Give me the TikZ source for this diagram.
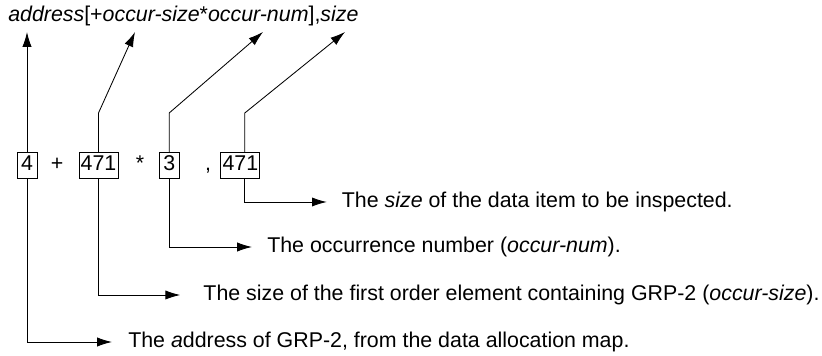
\documentclass[tikz,border=0pt]{standalone}
\usepackage{fontspec}
\setmainfont{Liberation Sans}
\usetikzlibrary{arrows.meta}

\begin{document}
\begin{tikzpicture}[font=\fontsize{15.2}{18}\selectfont,
numbox/.style={draw, line width=0.6pt, inner xsep=1.2pt, inner ysep=2pt, minimum width=0.5cm, text height=10.9pt, text depth=3.7pt, anchor=base},
op/.style={anchor=base, inner sep=0pt},
lead/.style={line width=0.6pt, -{Latex[length=10.5pt, width=6.5pt]}},
note/.style={anchor=west, inner sep=0pt}]
\useasboundingbox (0,0) rectangle (20.55,8.9);
\node [anchor=base west, inner sep=0pt] (formula) at (0.2,8.3625) {\textit{address}[+\textit{occur-size}*\textit{occur-num}],\textit{size}};
\coordinate (upaddr) at (0.675,8.1);
\coordinate (upoccsize) at (3.375,8.1);
\coordinate (upoccnum) at (6.575,8.1);
\coordinate (upsize) at (8.625,8.1);
\coordinate (kink) at (0,6.075);

\node [numbox] (b4) at (0.675,4.63) {4};
\node [op] (plus) at (1.425,4.63) {+};
\node [numbox] (b471) at (2.4625,4.63) {471};
\node [op] (times) at (3.5,4.63) {*};
\node [numbox] (b3) at (4.23,4.63) {3};
\node [op] (comma) at (5.2,4.63) {,};
\node [numbox] (bsize) at (6.01,4.63) {471};

\node [note] (tsize) at (8.54,3.85) {The \textit{size} of the data item to be inspected.};
\node [note] (tnum) at (6.675,2.725) {The occurrence number (\textit{occur-num}).};
\node [note] (toccsize) at (5.08,1.525) {The size of the first order element containing GRP-2 (\textit{occur-size}).};
\node [note] (taddr) at (3.2,0.35) {The \textit{a}ddress of GRP-2, from the data allocation map.};

\draw [lead] (b4.north) -- (upaddr);
\draw [lead] (b471.north) -- (b471.north |- kink) -- (upoccsize);
\draw [lead] (b3.north) -- (b3.north |- kink) -- (upoccnum);
\draw [lead] ([xshift=0.11cm]bsize.north) -- ([xshift=0.11cm]bsize.north |- kink) -- (upsize);

\draw [lead, shorten >=0.37cm] ([xshift=0.11cm]bsize.south) |- (tsize.west);
\draw [lead, shorten >=0.375cm] (b3.south) |- (tnum.west);
\draw [lead, shorten >=0.575cm] (b471.south) |- (toccsize.west);
\draw [lead, shorten >=0.4cm] (b4.south) |- (taddr.west);
\end{tikzpicture}
\end{document}
